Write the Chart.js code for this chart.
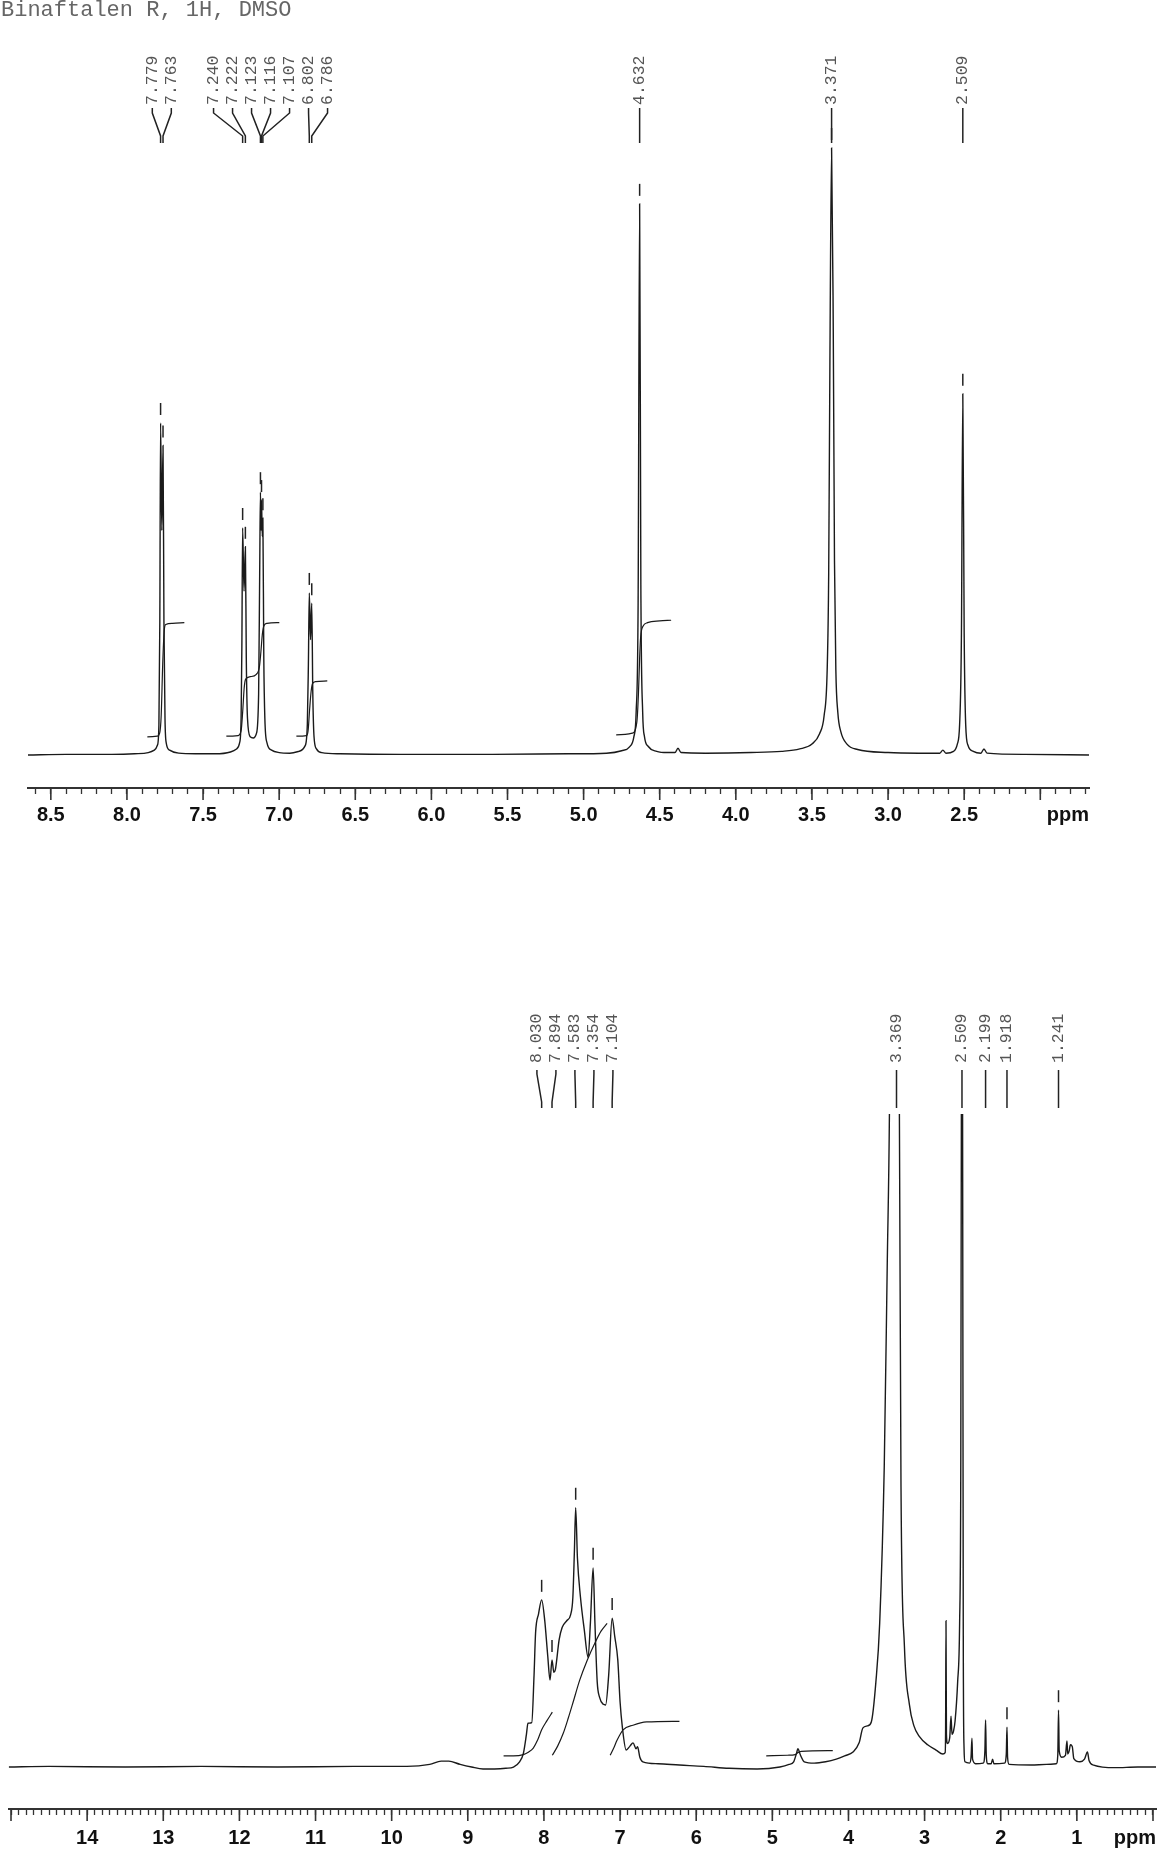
<!DOCTYPE html>
<html><head><meta charset="utf-8">
<script src="https://cdn.jsdelivr.net/npm/chart.js@4.4.1/dist/chart.umd.min.js"></script>
<style>
html,body{margin:0;padding:0;background:#fff;}
body{width:1164px;height:1854px;position:relative;overflow:hidden;}
#title{position:absolute;left:1px;top:-1px;font-family:'Liberation Mono',monospace;font-size:22px;color:#666;white-space:pre;line-height:24px;}
#c1{position:absolute;left:0;top:0;width:1164px;height:860px;}
#c2{position:absolute;left:0;top:860px;width:1164px;height:994px;}
</style></head><body>
<canvas id="c1" width="1164" height="860"></canvas>
<canvas id="c2" width="1164" height="994"></canvas>
<div id="title">Binaftalen R, 1H, DMSO</div>
<script>
// ---------- DATA (ppm, relative intensity) ----------
const topTickLabels = ['8.5','8.0','7.5','7.0','6.5','6.0','5.5','5.0','4.5','4.0','3.5','3.0','2.5'];
const botTickLabels = ['14','13','12','11','10','9','8','7','6','5','4','3','2','1'];

const topPeakLabels = ['7.779','7.763','7.240','7.222','7.123','7.116','7.107','6.802','6.786','4.632','3.371','2.509'];
const botPeakLabels = ['8.030','7.894','7.583','7.354','7.104','3.369','2.509','2.199','1.918','1.241'];
const botUnmarkedPeaks = ['2.199'];

const topSpectrum = [
[8.65,0],[8.4,0.1],[8.1,0.1],[7.95,0.2],[7.86,0.4],[7.82,0.8],[7.80,1.6],[7.79,5],[7.784,22],[7.779,54.7],[7.771,37],[7.763,51],[7.757,22],[7.75,6],[7.742,2],[7.72,0.8],[7.66,0.3],[7.55,0.2],[7.42,0.2],[7.32,0.5],[7.28,1],[7.26,2],[7.25,6],[7.245,18],[7.240,37.4],[7.231,27],[7.222,34.3],[7.216,16],[7.208,6],[7.19,3],[7.17,2.8],[7.15,3.5],[7.135,10],[7.128,30],[7.123,43.3],[7.119,37],[7.116,42],[7.111,36],[7.107,39],[7.101,16],[7.094,6],[7.08,2],[7.05,0.8],[7.0,0.4],[6.93,0.3],[6.87,0.6],[6.83,1.5],[6.815,5],[6.808,15],[6.802,26.7],[6.794,19],[6.786,25],[6.779,10],[6.771,3],[6.755,1],[6.72,0.4],[6.6,0.2],[6.2,0.1],[5.6,0.1],[5.1,0.2],[4.85,0.3],[4.75,0.7],[4.70,1.3],[4.67,3],[4.655,7],[4.642,25],[4.632,90.8],[4.624,28],[4.612,7],[4.60,3],[4.575,1.4],[4.52,0.6],[4.45,0.4],[4.40,0.4],[4.38,1.1],[4.36,0.4],[4.2,0.3],[3.9,0.4],[3.7,0.6],[3.58,1],[3.5,1.8],[3.45,3.5],[3.42,6.5],[3.40,14],[3.39,30],[3.382,65],[3.371,100],[3.36,70],[3.352,32],[3.343,14],[3.33,7],[3.31,3.8],[3.27,1.8],[3.2,0.9],[3.0,0.4],[2.8,0.3],[2.66,0.3],[2.64,0.8],[2.62,0.3],[2.57,0.6],[2.545,1.8],[2.53,5],[2.518,20],[2.509,59.5],[2.500,20],[2.49,5],[2.475,1.6],[2.44,0.6],[2.39,0.3],[2.37,1.0],[2.35,0.3],[2.1,0.1],[1.68,0]
];
const topIntegral1 = [[7.866,3.0],[7.80,3.1],[7.785,3.6],[7.775,6.5],[7.765,15],[7.755,20.5],[7.745,21.5],[7.70,21.7],[7.623,21.8]];
const topIntegral2 = [[7.347,3.1],[7.27,3.2],[7.25,4],[7.24,7],[7.23,11],[7.22,12.5],[7.19,12.9],[7.15,13.3],[7.13,14.5],[7.12,17],[7.11,20],[7.10,21.3],[7.08,21.7],[6.999,21.8]];
const topIntegral3 = [[6.887,3.1],[6.82,3.2],[6.81,4],[6.80,7.5],[6.79,10.5],[6.78,11.8],[6.76,12.1],[6.684,12.2]];
const topIntegral4 = [[4.786,3.3],[4.68,3.6],[4.65,5.5],[4.64,10],[4.632,16],[4.625,19.5],[4.61,21.2],[4.58,21.8],[4.50,22.1],[4.425,22.2]];

const botSpectrum = [
[15.03,0],[14.5,0.1],[13.5,0],[12.5,0.1],[11.5,0],[10.5,0.1],[9.8,0.1],[9.5,0.4],[9.35,0.9],[9.25,0.9],[9.1,0.4],[8.95,0],[8.8,-0.3],[8.65,-0.3],[8.5,-0.2],[8.40,0],[8.32,0.8],[8.27,2.1],[8.23,5],[8.21,6.7],[8.16,6.8],[8.13,14],[8.11,20.5],[8.07,23.5],[8.030,25.6],[7.99,22.5],[7.95,17],[7.92,13.3],[7.894,16.4],[7.87,14.5],[7.85,14.9],[7.80,19.5],[7.76,21.4],[7.70,22.4],[7.65,23.3],[7.62,26],[7.60,33],[7.583,39.7],[7.56,32],[7.52,26],[7.47,21],[7.42,16.8],[7.39,22],[7.354,30.5],[7.33,22],[7.30,13],[7.27,10.7],[7.22,9.6],[7.19,9.5],[7.15,14],[7.104,22.8],[7.07,20],[7.03,16.4],[7.00,10],[6.97,6.1],[6.92,2.6],[6.87,3.2],[6.83,3.7],[6.79,2.8],[6.77,3.1],[6.74,1.5],[6.70,0.8],[6.5,0.5],[6.22,0.3],[5.9,0.1],[5.57,-0.2],[5.2,-0.3],[4.9,0],[4.78,0.4],[4.72,0.8],[4.68,2.2],[4.665,2.8],[4.63,1.8],[4.58,0.8],[4.45,0.6],[4.3,0.8],[4.16,1.2],[4.05,1.7],[3.94,2.3],[3.86,3.7],[3.81,6.0],[3.75,6.3],[3.70,6.9],[3.64,13],[3.59,22],[3.53,46],[3.49,77.5],[3.462,100],[3.43,160],[3.40,180],[3.37,160],[3.331,100],[3.31,42.9],[3.265,18.5],[3.20,9.6],[3.14,6.3],[3.07,4.7],[2.96,3.4],[2.85,2.6],[2.76,2.0],[2.73,2.2],[2.724,6],[2.719,22.4],[2.713,5],[2.70,3.6],[2.67,4.5],[2.653,7.8],[2.64,5],[2.62,5.5],[2.60,7],[2.566,13],[2.54,22],[2.525,45],[2.517,100],[2.509,250],[2.501,100],[2.492,20],[2.482,3],[2.47,0.8],[2.41,0.6],[2.39,1.5],[2.378,4.4],[2.37,1.2],[2.33,0.5],[2.23,0.6],[2.208,2.5],[2.199,7.2],[2.19,1.8],[2.17,0.5],[2.125,0.5],[2.107,1.2],[2.09,0.5],[1.95,0.6],[1.927,2],[1.918,6.1],[1.91,1.5],[1.89,0.4],[1.6,0.3],[1.40,0.4],[1.27,0.5],[1.25,2],[1.241,8.7],[1.232,2.5],[1.20,1.5],[1.15,1.8],[1.13,4.0],[1.12,2],[1.10,2.5],[1.085,3.4],[1.06,3.1],[1.04,1.3],[0.96,0.8],[0.90,1.2],[0.861,2.3],[0.84,1],[0.78,0.3],[0.5,-0.1],[0.2,0],[-0.04,0]
];
const botIntegral1 = [[8.53,1.7],[8.40,1.7],[8.27,1.9],[8.20,2.3],[8.14,2.9],[8.08,4.2],[8.03,5.7],[7.96,7.1],[7.89,8.4]];
const botIntegral2 = [[7.89,1.8],[7.82,3.2],[7.745,5.2],[7.68,7.5],[7.62,9.8],[7.53,13.3],[7.43,16.4],[7.33,19],[7.25,20.8],[7.17,22]];
const botIntegral3 = [[7.13,1.8],[7.08,3],[7.04,4.1],[6.96,5.7],[6.83,6.4],[6.65,6.9],[6.22,7.0]];
const botIntegral4 = [[5.08,1.7],[4.80,1.8],[4.70,1.9],[4.665,2.2],[4.62,2.4],[4.206,2.5]];

// ---------- helpers ----------
function pts(arr){ return arr.map(([x,y]) => ({x, y})); }
function lineDs(arr, w){
  return {data: pts(arr), borderColor:'#1a1a1a', borderWidth:w, pointRadius:0, fill:false, cubicInterpolationMode:'monotone'};
}
function spread(items, gap){
  let clusters = items.map(it => ({members:[it], center:it.px}));
  let changed = true;
  while (changed){
    changed = false;
    for (let i = 0; i < clusters.length - 1; i++){
      const a = clusters[i], b = clusters[i+1];
      const aEnd = a.center + (a.members.length-1)/2*gap;
      const bStart = b.center - (b.members.length-1)/2*gap;
      if (bStart - aEnd < gap - 0.01){
        const members = a.members.concat(b.members);
        const center = members.reduce((s,m)=>s+m.px,0)/members.length;
        clusters.splice(i, 2, {members, center});
        changed = true; break;
      }
    }
  }
  clusters.forEach(c => c.members.forEach((m,k) => { m.lx = c.center + (k-(c.members.length-1)/2)*gap; }));
}

function annotPlugin(cfg){
  return {
    id: 'nmrAnnot',
    afterDatasetsDraw(chart){
      const ctx = chart.ctx, ca = chart.chartArea, xs = chart.scales.x, ys = chart.scales.y;
      const items = cfg.labels.map(t => ({text:t, ppm:parseFloat(t)}))
        .map(it => Object.assign(it, {px: xs.getPixelForValue(it.ppm)}))
        .sort((a,b) => a.px - b.px);
      spread(items, 19);
      ctx.save();
      ctx.strokeStyle = '#222'; ctx.lineWidth = 1.5;
      items.forEach(it => {
        ctx.beginPath();
        ctx.moveTo(it.lx, ca.top + cfg.lead[0]);
        ctx.lineTo(it.lx, ca.top + cfg.lead[1]);
        ctx.lineTo(it.px, ca.top + cfg.lead[2]);
        ctx.lineTo(it.px, ca.top + cfg.lead[3]);
        ctx.stroke();
        let best = cfg.spectrum[0];
        for (const p of cfg.spectrum) if (Math.abs(p[0]-it.ppm) < Math.abs(best[0]-it.ppm)) best = p;
        const py = ys.getPixelForValue(best[1]);
        if (py > ca.top + 25 && !(cfg.unmarked || []).includes(it.text)){
          ctx.beginPath(); ctx.moveTo(it.px, py - 20); ctx.lineTo(it.px, py - 8); ctx.stroke();
        }
        ctx.save();
        ctx.translate(it.lx, ca.top + cfg.textBottom);
        ctx.rotate(-Math.PI/2);
        ctx.font = '16.5px "Liberation Mono", monospace';
        ctx.fillStyle = '#555'; ctx.textAlign = 'left'; ctx.textBaseline = 'middle';
        ctx.fillText(it.text, 0, 0);
        ctx.restore();
      });
      ctx.restore();
    },
    afterDraw(chart){
      const ctx = chart.ctx, ca = chart.chartArea, xs = chart.scales.x;
      ctx.save();
      ctx.strokeStyle = '#333'; ctx.lineWidth = 1.6;
      xs.ticks.forEach(t => {
        if (cfg.isMajor(t.value)){
          const x = xs.getPixelForValue(t.value);
          ctx.beginPath(); ctx.moveTo(x, ca.bottom); ctx.lineTo(x, ca.bottom + 12); ctx.stroke();
        }
      });
      ctx.font = 'bold 20px "Liberation Sans", Arial, sans-serif';
      ctx.fillStyle = '#111'; ctx.textAlign = 'right'; ctx.textBaseline = 'middle';
      ctx.fillText('ppm', ca.right, ca.bottom + 6 + cfg.tickPad + 12);
      ctx.restore();
    }
  };
}

function xAxis(min, max, labels, pad, h){
  return {
    type:'linear', reverse:true, min, max,
    afterFit: s => { s.height = h; },
    grid:{display:true, drawOnChartArea:false, drawTicks:true, tickLength:6, tickColor:'#333', tickWidth:1.3},
    border:{display:true, color:'#333', width:2},
    ticks:{
      stepSize:0.1, autoSkip:false, includeBounds:false, maxRotation:0, minRotation:0, padding:pad,
      color:'#111', font:{family:'"Liberation Sans", Arial, sans-serif', size:20, weight:'bold'},
      callback: v => { const l = labels.find(s => Math.abs(parseFloat(s) - v) < 1e-6); return l === undefined ? '' : l; }
    }
  };
}

// ---------- top chart ----------
new Chart(document.getElementById('c1'), {
  type:'line',
  data:{datasets:[
    lineDs(topSpectrum, 1.4), lineDs(topIntegral1, 1.2), lineDs(topIntegral2, 1.2), lineDs(topIntegral3, 1.2), lineDs(topIntegral4, 1.2)
  ]},
  options:{
    responsive:false, animation:false, events:[],
    layout:{padding:{top:100, left:28, right:75, bottom:0}},
    plugins:{legend:{display:false}, tooltip:{enabled:false}},
    scales:{
      x: xAxis(1.68, 8.65, topTickLabels, 9, 72),
      y: {display:false, min:-5.437, max:107.91}
    }
  },
  plugins:[annotPlugin({labels:topPeakLabels, spectrum:topSpectrum, lead:[8,13,36,43], textBottom:5, tickPad:9,
    isMajor: v => Math.round(v*10) % 5 === 0})]
});

// ---------- bottom chart ----------
new Chart(document.getElementById('c2'), {
  type:'line',
  data:{datasets:[
    lineDs(botSpectrum, 1.4), lineDs(botIntegral1, 1.2), lineDs(botIntegral2, 1.2), lineDs(botIntegral3, 1.2), lineDs(botIntegral4, 1.2)
  ]},
  options:{
    responsive:false, animation:false, events:[],
    layout:{padding:{top:254, left:5, right:5, bottom:0}},
    plugins:{legend:{display:false}, tooltip:{enabled:false}},
    scales:{
      x: xAxis(-0.04, 15.03, botTickLabels, 11, 45),
      y: {display:false, min:-6.43, max:100}
    }
  },
  plugins:[annotPlugin({labels:botPeakLabels, spectrum:botSpectrum, unmarked:botUnmarkedPeaks, lead:[-44,-40,-12,-6], textBottom:-51, tickPad:11,
    isMajor: v => Math.round(v*10) % 10 === 0})]
});
</script></body></html>
